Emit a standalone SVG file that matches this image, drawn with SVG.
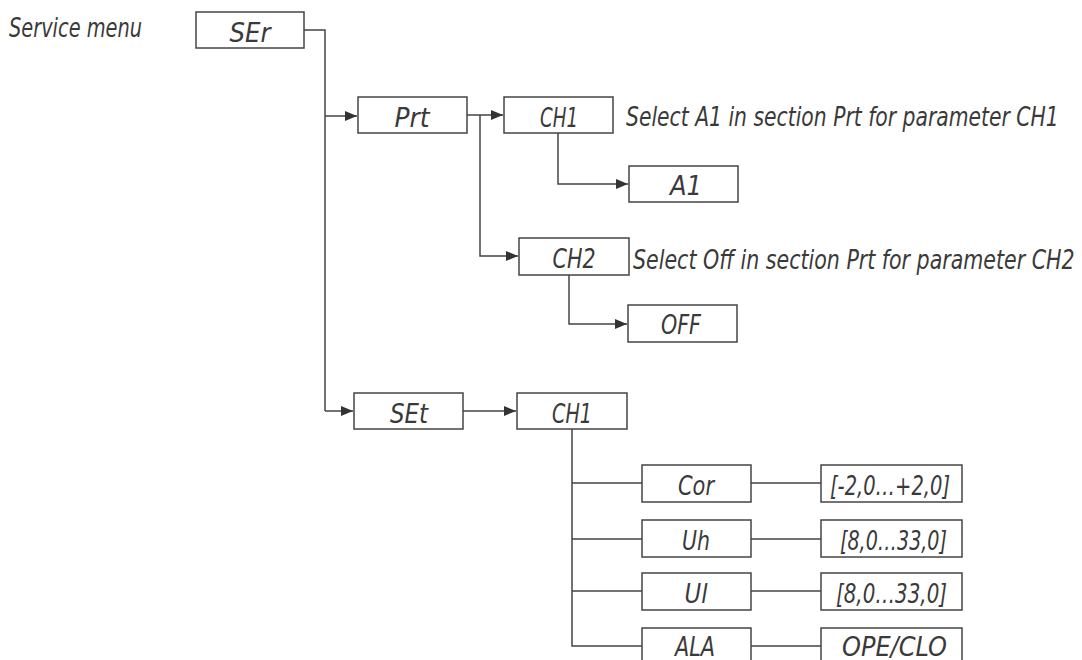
<svg xmlns="http://www.w3.org/2000/svg" width="1082" height="660" viewBox="0 0 1082 660">
<style>
.box{fill:#fff;stroke:#444;stroke-width:1.5}
.ln{fill:none;stroke:#444;stroke-width:1.5}
.arr{marker-end:url(#ah)}
text{font-family:"DejaVu Sans Condensed","DejaVu Sans",sans-serif;font-style:oblique;font-size:26px;fill:#3a3a3a}
.c{text-anchor:middle}
</style>
<defs>
<marker id="ah" markerUnits="userSpaceOnUse" markerWidth="12" markerHeight="10" refX="12" refY="5" orient="auto">
<path d="M0,0 L12,5 L0,10 z" fill="#333"/>
</marker>
</defs>
<rect width="1082" height="660" fill="#fff"/>
<text x="9" y="37" textLength="133" lengthAdjust="spacingAndGlyphs">Service menu</text>
<g id="connectors">
<path class="ln" d="M304,30 H325 V411"/>
<path class="ln arr" d="M325,116 H357"/>
<path class="ln arr" d="M325,411 H353"/>
<path class="ln arr" d="M467,115 H503"/>
<path class="ln arr" d="M480,115 V256 H518"/>
<path class="ln arr" d="M558,133 V184 H628"/>
<path class="ln arr" d="M569,275 V324 H627"/>
<path class="ln arr" d="M463,411 H516"/>
<path class="ln" d="M572,429 V646 H642 M572,483 H642 M572,539 H642 M572,591 H642"/>
<path class="ln" d="M751,483 H821 M751,539 H821 M751,591 H821 M751,646 H821"/>
</g>
<g id="SEr"><rect class="box" x="196" y="12" width="108" height="36"/><text class="c" x="250" y="42" textLength="41" lengthAdjust="spacingAndGlyphs">SEr</text></g>
<g id="Prt"><rect class="box" x="358" y="97" width="109" height="36"/><text class="c" x="412" y="127" textLength="35" lengthAdjust="spacingAndGlyphs">Prt</text></g>
<g id="PrtCH1"><rect class="box" x="504" y="97" width="109" height="36"/><text class="c" x="559" y="127" textLength="38" lengthAdjust="spacingAndGlyphs">CH1</text></g>
<g id="note1" transform="scale(0.8,1)"><text x="782.5" y="126" textLength="541" lengthAdjust="spacingAndGlyphs">Select A1 in section Prt for parameter CH1</text></g>
<g id="A1"><rect class="box" x="629" y="166" width="109" height="36"/><text class="c" x="686" y="195" textLength="32" lengthAdjust="spacingAndGlyphs">A1</text></g>
<g id="CH2"><rect class="box" x="519" y="238" width="110" height="37"/><text class="c" x="574" y="268" textLength="43" lengthAdjust="spacingAndGlyphs">CH2</text></g>
<g id="note2" transform="scale(0.8,1)"><text x="791.25" y="269" textLength="552" lengthAdjust="spacingAndGlyphs">Select Off in section Prt for parameter CH2</text></g>
<g id="OFF"><rect class="box" x="628" y="305" width="109" height="37"/><text class="c" x="681" y="334" textLength="40" lengthAdjust="spacingAndGlyphs">OFF</text></g>
<g id="SEt"><rect class="box" x="354" y="393" width="109" height="36"/><text class="c" x="409" y="423" textLength="38" lengthAdjust="spacingAndGlyphs">SEt</text></g>
<g id="SEtCH1"><rect class="box" x="517" y="393" width="110" height="36"/><text class="c" x="572" y="423" textLength="40" lengthAdjust="spacingAndGlyphs">CH1</text></g>
<g id="Cor"><rect class="box" x="642" y="465" width="109" height="37"/><text class="c" x="696" y="495" textLength="36" lengthAdjust="spacingAndGlyphs">Cor</text></g>
<g id="Uh"><rect class="box" x="642" y="520" width="109" height="37"/><text class="c" x="696" y="550" textLength="28" lengthAdjust="spacingAndGlyphs">Uh</text></g>
<g id="Ul"><rect class="box" x="642" y="573" width="109" height="37"/><text class="c" x="696" y="603" textLength="23" lengthAdjust="spacingAndGlyphs">Ul</text></g>
<g id="ALA"><rect class="box" x="642" y="628" width="109" height="37"/><text class="c" x="695" y="656" textLength="40" lengthAdjust="spacingAndGlyphs">ALA</text></g>
<g id="CorVal"><rect class="box" x="821" y="465" width="141" height="37"/><text x="830" y="495" textLength="120" lengthAdjust="spacingAndGlyphs">[-2,0…+2,0]</text></g>
<g id="UhVal"><rect class="box" x="821" y="520" width="141" height="37"/><text x="840" y="550" textLength="107" lengthAdjust="spacingAndGlyphs">[8,0…33,0]</text></g>
<g id="UlVal"><rect class="box" x="821" y="573" width="141" height="37"/><text x="836" y="603" textLength="111" lengthAdjust="spacingAndGlyphs">[8,0…33,0]</text></g>
<g id="ALAVal"><rect class="box" x="821" y="628" width="141" height="37"/><text x="842" y="656" textLength="105" lengthAdjust="spacingAndGlyphs">OPE/CLO</text></g>
</svg>
